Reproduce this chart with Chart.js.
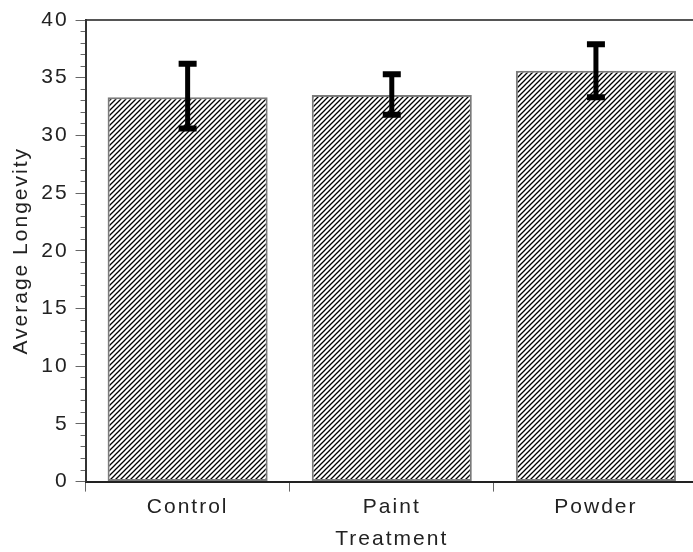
<!DOCTYPE html>
<html>
<head>
<meta charset="utf-8">
<script src="https://cdn.jsdelivr.net/npm/chart.js@4"></script>
<style>
  html, body { margin: 0; padding: 0; overflow: hidden; background: #fff; }
  #wrap { width: 710px; height: 552px; }
</style>
</head>
<body>
<div id="wrap"><canvas id="chart"></canvas></div>
<script>
'use strict';

const treatments = ['Control', 'Paint', 'Powder'];
const longevity = [33.3, 33.5, 35.6];
const errLow = [30.6, 31.8, 33.3];
const errHigh = [36.2, 35.3, 37.9];
const yMin = 0;
const yMax = 40;
const yLabelStep = 5;

const fontFamily = '"Liberation Sans", Arial, sans-serif';

function makeHatch() {
  const size = 5;
  const c = document.createElement('canvas');
  c.width = size;
  c.height = size;
  const g = c.getContext('2d');
  g.fillStyle = '#fff';
  g.fillRect(0, 0, size, size);
  g.strokeStyle = '#000';
  g.lineWidth = 1.3;
  g.beginPath();
  g.moveTo(0, size); g.lineTo(size, 0);
  g.moveTo(-1, 1); g.lineTo(1, -1);
  g.moveTo(size - 1, size + 1); g.lineTo(size + 1, size - 1);
  g.stroke();
  return g.createPattern(c, 'repeat');
}

// the reference text is spaced out, canvas letterSpacing gets close to it
const spacing = {
  id: 'spacing',
  beforeUpdate(chart) { chart.ctx.letterSpacing = '2px'; },
  beforeDraw(chart) { chart.ctx.letterSpacing = '2px'; }
};

const errorBars = {
  id: 'errorBars',
  afterDatasetsDraw(chart) {
    const ctx = chart.ctx;
    const y = chart.scales.y;
    const meta = chart.getDatasetMeta(0);
    ctx.save();
    ctx.strokeStyle = '#000';
    meta.data.forEach(function(bar, i) {
      const top = y.getPixelForValue(errHigh[i]);
      const bottom = y.getPixelForValue(errLow[i]);
      ctx.lineWidth = 5;
      ctx.beginPath();
      ctx.moveTo(bar.x, top);
      ctx.lineTo(bar.x, bottom);
      ctx.stroke();
      ctx.lineWidth = 6;
      ctx.beginPath();
      ctx.moveTo(bar.x - 9, top);
      ctx.lineTo(bar.x + 9, top);
      ctx.moveTo(bar.x - 9, bottom);
      ctx.lineTo(bar.x + 9, bottom);
      ctx.stroke();
    });
    ctx.restore();
  }
};

Chart.defaults.font.family = fontFamily;
Chart.defaults.font.size = 21;
Chart.defaults.color = '#222';

new Chart(document.getElementById('chart'), {
  type: 'bar',
  data: {
    labels: treatments,
    datasets: [{
      data: longevity,
      backgroundColor: makeHatch(),
      borderColor: '#7a7a7a',
      borderWidth: 2,
      borderSkipped: false,
      barPercentage: 0.784,
      categoryPercentage: 1
    }]
  },
  options: {
    responsive: true,
    maintainAspectRatio: false,
    animation: false,
    layout: { padding: { left: 9, top: 20, right: 12, bottom: 0 } },
    plugins: {
      legend: { display: false },
      tooltip: { enabled: false }
    },
    scales: {
      x: {
        position: 'bottom',
        grid: {
          offset: true,
          drawOnChartArea: false,
          tickLength: 10,
          tickColor: '#666'
        },
        border: { color: '#222', width: 2 },
        ticks: { padding: 3, color: '#222' },
        title: {
          display: true,
          text: 'Treatment',
          color: '#222',
          padding: { top: 4, bottom: 0 }
        }
      },
      x2: {
        type: 'category',
        position: 'top',
        labels: treatments,
        grid: { display: false, drawTicks: false },
        ticks: { display: false },
        border: { color: '#555', width: 2 }
      },
      y: {
        min: yMin,
        max: yMax,
        grid: {
          drawOnChartArea: false,
          tickLength: 10,
          tickColor: '#666',
          tickBorderDash: function(c) {
            return c.tick && c.tick.value % yLabelStep === 0 ? [] : [0, 5, 5];
          }
        },
        border: { color: '#333', width: 2 },
        ticks: {
          stepSize: 1,
          autoSkip: false,
          padding: 7,
          color: '#222',
          callback: function(v) { return v % yLabelStep === 0 ? v : ''; }
        },
        title: {
          display: true,
          text: 'Average Longevity',
          color: '#222',
          padding: { top: 0, bottom: 0 }
        }
      }
    }
  },
  plugins: [spacing, errorBars]
});
</script>
</body>
</html>
